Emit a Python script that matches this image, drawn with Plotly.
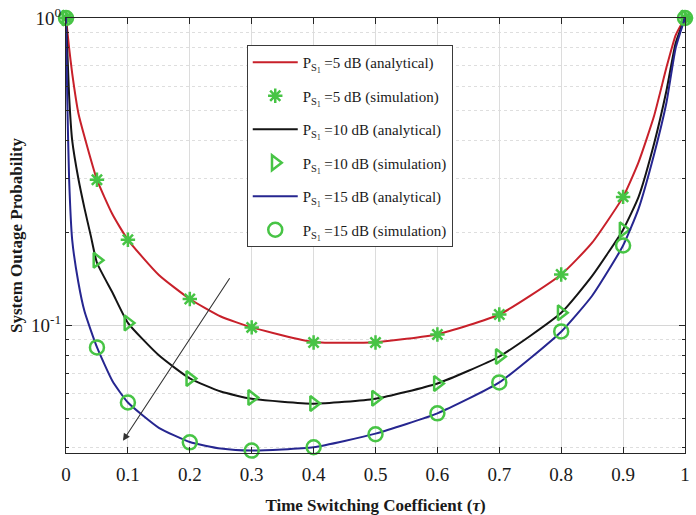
import math
import plotly.graph_objects as go

# Time switching coefficient samples for the simulated points
tau_sim = [0, 0.05, 0.1, 0.2, 0.3, 0.4, 0.5, 0.6, 0.7, 0.8, 0.9, 1.0]
sim_5db = [1.0, 0.298, 0.190, 0.122, 0.0986, 0.0881, 0.0881, 0.0935, 0.1086, 0.1465, 0.262, 1.0]
sim_10db = [1.0, 0.163, 0.102, 0.0673, 0.0583, 0.0558, 0.0580, 0.0648, 0.0793, 0.110, 0.205, 1.0]
sim_15db = [1.0, 0.0849, 0.0562, 0.0417, 0.0392, 0.0402, 0.0443, 0.0518, 0.0653, 0.0957, 0.182, 1.0]

# Analytical curves (finer sampling of tau)
tau_5db = [0, 0.005, 0.01, 0.02, 0.03, 0.05, 0.075, 0.1, 0.15, 0.2, 0.25, 0.3, 0.4, 0.5,
           0.6, 0.7, 0.8, 0.85, 0.9, 0.925, 0.95, 0.97, 0.985, 1.0]
ana_5db = [1.0, 0.80, 0.66, 0.49, 0.41, 0.298, 0.230, 0.190, 0.146, 0.122, 0.107, 0.0986, 0.0884, 0.0882,
           0.0937, 0.1086, 0.1465, 0.186, 0.262, 0.340, 0.480, 0.69, 0.88, 1.0]

tau_10db = [0, 0.005, 0.01, 0.02, 0.03, 0.04, 0.05, 0.075, 0.1, 0.15, 0.2, 0.25, 0.3, 0.4, 0.5,
            0.6, 0.7, 0.8, 0.85, 0.9, 0.925, 0.95, 0.97, 0.985, 1.0]
ana_10db = [1.0, 0.56, 0.40, 0.30, 0.24, 0.196, 0.160, 0.128, 0.102, 0.080, 0.0673, 0.061, 0.0578, 0.0557, 0.0578,
            0.0648, 0.0793, 0.110, 0.145, 0.205, 0.262, 0.390, 0.58, 0.83, 1.0]

tau_15db = [0, 0.002, 0.005, 0.01, 0.02, 0.03, 0.05, 0.075, 0.1, 0.15, 0.2, 0.25, 0.3, 0.4, 0.5,
            0.6, 0.7, 0.8, 0.85, 0.9, 0.925, 0.95, 0.97, 0.985, 1.0]
ana_15db = [1.0, 0.55, 0.30, 0.19, 0.138, 0.111, 0.085, 0.066, 0.0562, 0.0465, 0.0418, 0.0398, 0.0392, 0.0402, 0.0445,
            0.0518, 0.0653, 0.0955, 0.125, 0.182, 0.240, 0.360, 0.53, 0.80, 1.0]

x_ticks = [0, 0.1, 0.2, 0.3, 0.4, 0.5, 0.6, 0.7, 0.8, 0.9, 1]
x_tick_text = ["0", "0.1", "0.2", "0.3", "0.4", "0.5", "0.6", "0.7", "0.8", "0.9", "1"]
y_major = [0.1, 1]
y_major_text = ["10<sup>-1</sup>", "10<sup>0</sup>"]
y_minor = [0.04, 0.05, 0.06, 0.07, 0.08, 0.09, 0.2, 0.3, 0.4, 0.5, 0.6, 0.7, 0.8, 0.9]

GREEN = "#47c445"
SERIF = "Liberation Serif"


def ps_label(db, kind):
    return f"P<sub>S<sub>1</sub></sub> ={db} dB ({kind})"


fig = go.Figure()

curves = [
    (tau_5db, ana_5db, "#c8202a", 5),
    (tau_10db, ana_10db, "#141414", 10),
    (tau_15db, ana_15db, "#262690", 15),
]
sims = [
    (sim_5db, "asterisk-open", 12, 5),
    (sim_10db, "triangle-right-open", 13, 10),
    (sim_15db, "circle-open", 14, 15),
]

for i, ((tx, ty, col, db), (sy, sym, size, _)) in enumerate(zip(curves, sims)):
    fig.add_trace(go.Scatter(
        x=tx, y=ty, mode="lines", name=ps_label(db, "analytical"),
        line=dict(color=col, width=2, shape="spline", smoothing=0.5),
        legendgroup=f"a{i}", cliponaxis=True,
    ))
    fig.add_trace(go.Scatter(
        x=tau_sim, y=sy, mode="markers", name=ps_label(db, "simulation"),
        marker=dict(symbol=sym, size=size, color=GREEN, line=dict(color=GREEN, width=2.5)),
        legendgroup=f"s{i}", cliponaxis=False,
    ))

# Arrow indicating increasing transmit power
fig.add_annotation(
    x=0.092, y=math.log10(0.0422), ax=0.266, ay=math.log10(0.144),
    xref="x", yref="y", axref="x", ayref="y",
    showarrow=True, arrowhead=2, arrowsize=1.3, arrowwidth=1.1, arrowcolor="#333333", text="",
)

axis_common = dict(
    showline=True, linecolor="#262626", linewidth=1, mirror="ticks",
    ticks="inside", tickcolor="#262626", ticklen=6, tickwidth=1,
    tickfont=dict(family=SERIF, size=19, color="#1a1a1a"),
    zeroline=False, automargin=False,
)

fig.update_xaxes(
    range=[0, 1], tickmode="array", tickvals=x_ticks, ticktext=x_tick_text,
    showgrid=True, gridcolor="#dcdcdc", gridwidth=1, ticklabelstandoff=4,
    title=dict(text="<b>Time Switching Coefficient (<i>τ</i>)</b>",
               font=dict(family=SERIF, size=17, color="#1a1a1a"), standoff=20),
    **axis_common,
)
fig.update_yaxes(
    type="log", range=[math.log10(0.0385), 0], tickmode="array",
    tickvals=y_major, ticktext=y_major_text,
    showgrid=True, gridcolor="#d6d6d6", gridwidth=1,
    minor=dict(tickmode="array", tickvals=y_minor, ticks="inside", ticklen=3,
               tickcolor="#262626", showgrid=True, gridcolor="#dedede", griddash="dot"),
    title=dict(text="<b>System Outage Probability</b>",
               font=dict(family=SERIF, size=17, color="#1a1a1a"), standoff=4),
    **axis_common,
)

fig.update_layout(
    width=696, height=515,
    margin=dict(l=66, r=11, t=18, b=62),
    paper_bgcolor="white", plot_bgcolor="white",
    legend=dict(
        x=0.292, y=0.938, xanchor="left", yanchor="top",
        bgcolor="white", bordercolor="#3a3a3a", borderwidth=1,
        font=dict(family=SERIF, size=15, color="#1a1a1a"),
        tracegroupgap=11, itemwidth=45,
    ),
    showlegend=True,
)

fig.write_html("out.html")
